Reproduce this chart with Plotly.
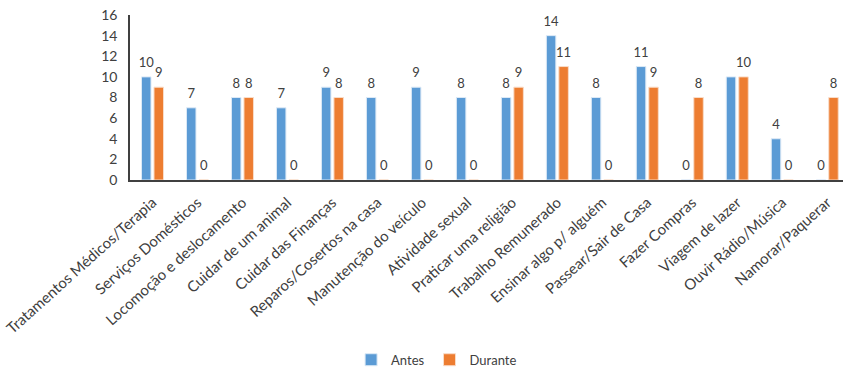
import plotly.graph_objects as go

categories = [
    "Tratamentos Médicos/Terapia", "Serviços Domésticos", "Locomoção e deslocamento",
    "Cuidar de um animal", "Cuidar das Finanças", "Reparos/Cosertos na casa",
    "Manutenção do veículo", "Atividade sexual", "Praticar uma religião",
    "Trabalho Remunerado", "Ensinar algo p/ alguém", "Passear/Sair de Casa",
    "Fazer Compras", "Viagem de lazer", "Ouvir Rádio/Música", "Namorar/Paquerar",
]
antes = [10, 7, 8, 7, 9, 8, 9, 8, 8, 14, 8, 11, 0, 10, 4, 0]
durante = [9, 0, 8, 0, 8, 0, 0, 0, 9, 11, 0, 9, 8, 10, 0, 8]
y_ticks = [0, 2, 4, 6, 8, 10, 12, 14, 16]

FONT = "Lato, 'Open Sans', sans-serif"

# In the reference the overlapping "10" label of the blue Viagem de lazer bar is hidden
antes_text = [str(v) for v in antes]
antes_text[categories.index("Viagem de lazer")] = ""
durante_text = [str(v) for v in durante]

fig = go.Figure()
fig.add_trace(go.Bar(
    x=categories, y=antes, name="Antes", offsetgroup="a",
    marker=dict(color="#5B9BD5", line=dict(color="#DCE9F6", width=1)),
))
fig.add_trace(go.Bar(
    x=categories, y=durante, name="Durante", offsetgroup="d",
    marker=dict(color="#ED7D31", line=dict(color="#F9DCC8", width=1)),
))
# data labels, floated above bars like the reference
for vals, txt, grp in [(antes, antes_text, "a"), (durante, durante_text, "d")]:
    fig.add_trace(go.Scatter(
        x=categories, y=vals, mode="markers+text", text=txt, offsetgroup=grp,
        textposition="top center", showlegend=False, hoverinfo="skip",
        marker=dict(size=9, opacity=0),
        textfont=dict(size=13, color="#404040", family=FONT), cliponaxis=False,
    ))

fig.update_layout(
    width=843, height=369,
    margin=dict(l=130, r=0, t=15, b=189, autoexpand=False),
    paper_bgcolor="white", plot_bgcolor="white",
    barmode="group", bargap=0.444, bargroupgap=0.24,
    scattermode="group", scattergap=0.444,
    font=dict(family=FONT, color="#404040"),
    showlegend=True,
    legend=dict(orientation="h", x=0.43, xanchor="center",
                yref="container", y=0.025, yanchor="middle",
                font=dict(size=13, color="#404040", family=FONT),
                itemwidth=30, traceorder="normal"),
)
fig.update_xaxes(
    range=[-0.5, 15.35], tickangle=-42, showgrid=False, automargin=False,
    showline=True, linecolor="#404040", linewidth=2, ticklabelstandoff=6,
    ticks="", tickfont=dict(size=15, color="#404040", family=FONT),
)
fig.update_yaxes(
    range=[0, 16], tickvals=y_ticks, showgrid=False, zeroline=False, automargin=False,
    showline=True, linecolor="#404040", linewidth=1.5, ticklabelstandoff=8,
    ticks="", ticklen=0, tickfont=dict(size=14, color="#404040", family=FONT),
)

fig.write_html("out.html")
